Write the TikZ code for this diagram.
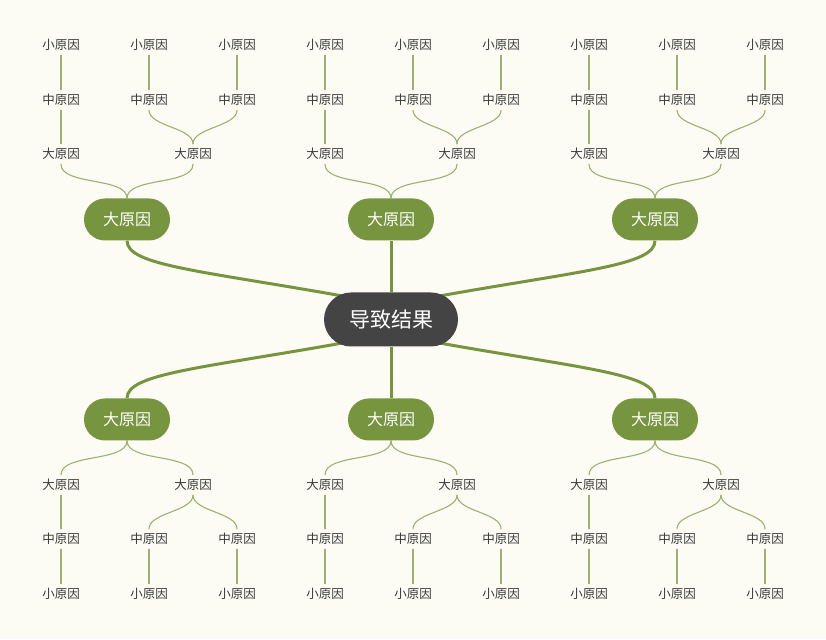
\documentclass[tikz,border=0pt]{standalone}
\usepackage{fontspec}
\setmainfont{Noto Sans CJK SC}
\usetikzlibrary{backgrounds,calc}
\definecolor{paper}{HTML}{FCFCF4}
\definecolor{leaf}{HTML}{77943F}
\definecolor{twig}{HTML}{9DB171}
\definecolor{coal}{HTML}{444444}
\definecolor{ink}{HTML}{3A3A3A}
\begin{document}
\begin{tikzpicture}[x=1pt,y=1pt,line join = round, line cap = round,
		ketqua/.style={fill=coal,text=white,rounded corners=27pt,minimum width=134pt,minimum height=54pt,inner sep=0pt,font=\fontsize{21}{21}\selectfont},
		lon/.style={fill=leaf,text=white,rounded corners=21pt,minimum width=86pt,minimum height=42pt,inner sep=0pt,font=\fontsize{16}{16}\selectfont},
		nho/.style={text=ink,minimum height=20pt,inner sep=0pt,font=\fontsize{12.5}{12.5}\selectfont},
		canh/.style={leaf,line width=3pt},
		nhanh/.style={twig,line width=1.1pt,looseness=0.75}]
			\begin{scope}[on background layer]
				\fill[paper] (0,0) rectangle (826,639);
			\end{scope}
			\node[ketqua] (K) at (391,319.5) {导致结果};
			\foreach \p/\g in {k1/{-40,22},k2/{40,22},k3/{-40,-22},k4/{40,-22}}
			\coordinate (\p) at ($(K)+(\g)$);
			%groups: x / up or down / name / anchor toward leaves / anchor toward root
			\foreach \x/\s/\n/\a/\b in {127/1/1/north/south,391/1/2/north/south,655/1/3/north/south,127/-1/4/south/north,391/-1/5/south/north,655/-1/6/south/north}{
				\node[lon] (D\n) at (\x,{319.5+100*\s}) {大原因};
				\node[nho] (d\n a) at (\x-66,{319.5+165.5*\s}) {大原因};
				\node[nho] (d\n b) at (\x+66,{319.5+165.5*\s}) {大原因};
				\node[nho] (z\n a) at (\x-66,{319.5+219.5*\s}) {中原因};
				\node[nho] (z\n b) at (\x+22,{319.5+219.5*\s}) {中原因};
				\node[nho] (z\n c) at (\x+110,{319.5+219.5*\s}) {中原因};
				\node[nho] (x\n a) at (\x-66,{319.5+274.5*\s}) {小原因};
				\node[nho] (x\n b) at (\x+22,{319.5+274.5*\s}) {小原因};
				\node[nho] (x\n c) at (\x+110,{319.5+274.5*\s}) {小原因};
				\draw[nhanh] (D\n.\a) to[out=90*\s,in=-90*\s] (d\n a.\b);
				\draw[nhanh] (D\n.\a) to[out=90*\s,in=-90*\s] (d\n b.\b);
				\draw[nhanh] (d\n b.\a) to[out=90*\s,in=-90*\s] (z\n b.\b);
				\draw[nhanh] (d\n b.\a) to[out=90*\s,in=-90*\s] (z\n c.\b);
				\draw[nhanh] (d\n a.\a)--(z\n a.\b);
				\foreach \c in {a,b,c}
				\draw[nhanh] (z\n \c.\a)--(x\n \c.\b);}
			\begin{scope}[on background layer]
				\draw[canh] (K.north)--(D2.south);
				\draw[canh] (K.south)--(D5.north);
				\draw[canh] (k1) .. controls +(-150,27) and +(0,-25) .. (D1.south);
				\draw[canh] (k2) .. controls +(150,27) and +(0,-25) .. (D3.south);
				\draw[canh] (k3) .. controls +(-150,-27) and +(0,25) .. (D4.north);
				\draw[canh] (k4) .. controls +(150,-27) and +(0,25) .. (D6.north);
			\end{scope}
\end{tikzpicture}
\end{document}
